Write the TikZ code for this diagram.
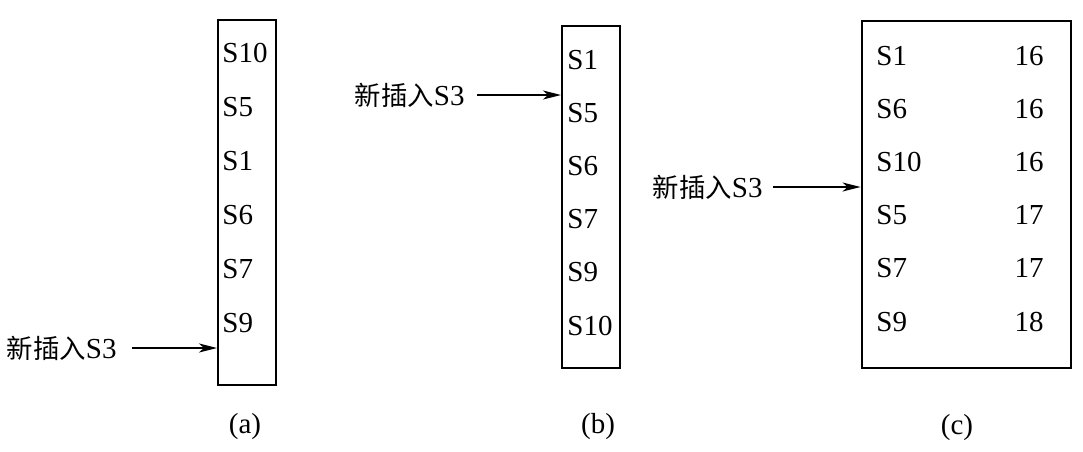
\documentclass[tikz,border=0pt]{standalone}
\usepackage{fontspec}
\setmainfont{Liberation Serif}
\newfontfamily\cjk{Noto Sans CJK SC}
\usetikzlibrary{positioning,arrows.meta}
\tikzset{
  listbox/.style={draw, line width=1pt, inner sep=0pt},
  entry/.style={anchor=base west, inner sep=0pt},
  count/.style={anchor=base east, inner sep=0pt},
  newlbl/.style={anchor=east, inner sep=0pt},
  insarr/.style={-{Stealth[length=9pt,width=4.5pt,inset=2.5pt]}, line width=0.9pt},
  caption/.style={inner sep=0pt},
}
\newcommand{\newins}{{\cjk\fontsize{13.2}{17}\selectfont 新插入}S3}

\begin{document}
\begin{tikzpicture}[x=0.5pt, y=-0.5pt, font=\fontsize{14.5}{17}\selectfont]
    \useasboundingbox (0,0) rectangle (1083,451);
    % (a) unsorted list
    \node[listbox, minimum width=29pt, minimum height=182.5pt] (boxa) at (247,202.5) {};
    \foreach \t [count=\i from 0] in {S10,S5,S1,S6,S7,S9}
        \node[entry] (a\i) at (222,62+54*\i) {\t};
    \node[newlbl] (lbla) at (117,348) {\newins};
    \draw[insarr, shorten <=7.5pt] (lbla.east) -- (boxa.west |- lbla.east);
    \node[caption] (capa) at (245,427) {(a)};
    % (b) sorted list
    \node[listbox, minimum width=29pt, minimum height=171pt] (boxb) at (591,197) {};
    \foreach \t [count=\i from 0] in {S1,S5,S6,S7,S9,S10}
        \node[entry] (b\i) at (567,69+53.2*\i) {\t};
    \node[newlbl] (lblb) at (465,95) {\newins};
    \draw[insarr, shorten <=6pt] (lblb.east) -- (boxb.west |- lblb.east);
    \node[caption] (capb) at (598,427) {(b)};
    % (c) list with counts
    \node[listbox, line width=1.4pt, minimum width=104.5pt, minimum height=173.5pt] (boxc) at (966.5,194.5) {};
    \foreach \t/\v [count=\i from 0] in {S1/16,S6/16,S10/16,S5/17,S7/17,S9/18} {
        \node[entry] (c\i) at (876,65+53.2*\i) {\t};
        \node[count] (cv\i) at (1044,65+53.2*\i) {\v};
    }
    \node[newlbl] (lblc) at (763,187) {\newins};
    \draw[insarr, shorten <=5pt] (lblc.east) -- (boxc.west |- lblc.east);
    \node[caption] (capc) at (957,428) {(c)};
\end{tikzpicture}
\end{document}
